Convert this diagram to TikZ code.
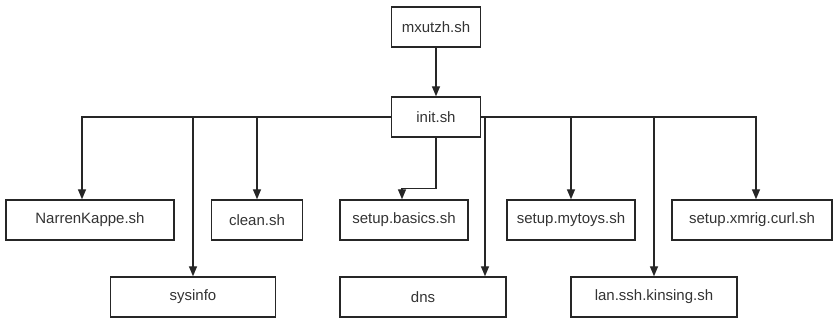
\documentclass[tikz,border=0pt]{standalone}
\usepackage{fontspec}
\setmainfont{Liberation Sans}
\usetikzlibrary{arrows.meta}

\begin{document}
\begin{tikzpicture}[x=0.03cm,y=-0.03cm,
  every node/.style={font=\fontsize{12.8}{15}\selectfont,text=black!80},
  box/.style={draw=black!85,line width=1.2pt,minimum height=1.2cm,minimum width=#1*0.03cm,inner sep=0pt},
  arr/.style={draw=black!85,line width=1.2pt,-{Triangle[length=3mm,width=2.4mm]}}]
\useasboundingbox (0,0) rectangle (833,320);
    % top of the tree
    \node[box=89] (mxutzh) at (436,27) {mxutzh.sh};
    \node[box=89] (init) at (436,117) {init.sh};
    % first row
    \node[box=168] (narren) at (90,220) {NarrenKappe.sh};
    \node[box=91] (clean) at (257,220) {clean.sh};
    \node[box=128] (basics) at (404,220) {setup.basics.sh};
    \node[box=128] (mytoys) at (571,220) {setup.mytoys.sh};
    \node[box=160] (xmrig) at (752,220) {setup.xmrig.curl.sh};
    % second row
    \node[box=165] (sysinfo) at (193,297) {sysinfo};
    \node[box=166] (dns) at (423,297) {dns};
    \node[box=166] (lan) at (654,297) {lan.ssh.kinsing.sh};
    % connectors
    \draw[arr] (mxutzh) -- (init);
    \draw[arr] (init.west) -| ([xshift=-0.24cm]narren.north);
    \draw[arr] (init.west) -| (sysinfo);
    \draw[arr] (init.west) -| (clean);
    \draw[arr] (init.south) -- ++(0,51) -| ([xshift=-0.06cm]basics.north);
    \draw[arr] (init.east) -| ([xshift=1.86cm]dns.north);
    \draw[arr] (init.east) -| (mytoys);
    \draw[arr] (init.east) -| (lan);
    \draw[arr] (init.east) -| ([xshift=0.12cm]xmrig.north);
\end{tikzpicture}
\end{document}
